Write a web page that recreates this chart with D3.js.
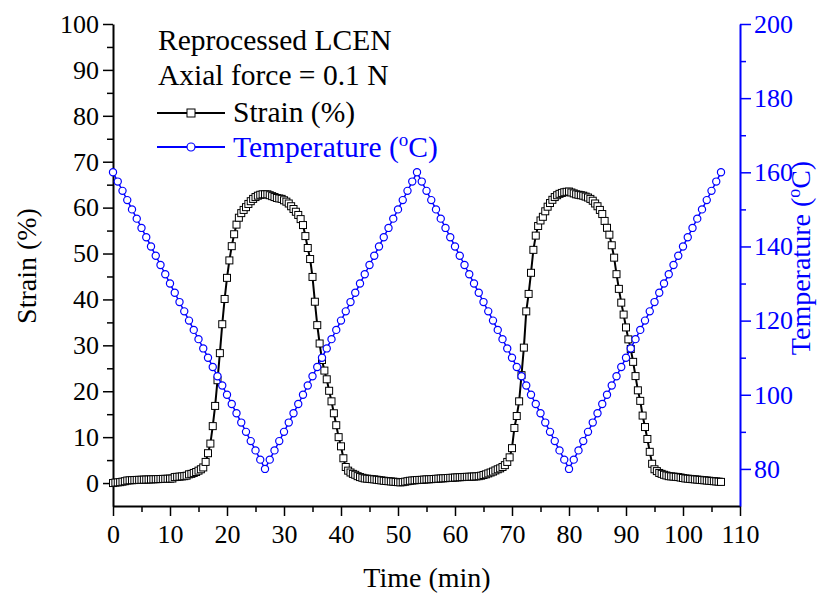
<!DOCTYPE html>
<html>
<head>
<meta charset="utf-8">
<script src="https://cdn.jsdelivr.net/npm/d3@7"></script>
<style>
  body { margin: 0; background: #fff; }
  svg text { font-family: "Liberation Serif", "Times New Roman", serif; }
</style>
</head>
<body>
<div id="chart"></div>
<script>
// strain sampled every 25 s, temperature markers every 50 s
var strainStep = 25 / 60;
var tempStep = 50 / 60;

var strain = [
  0.0,0.1,0.15,0.2,0.3,0.4,0.55,0.6,0.62,0.65,
  0.68,0.7,0.72,0.74,0.76,0.78,0.8,0.82,0.84,0.86,
  0.88,0.9,0.92,0.94,0.96,0.98,1.3,1.35,1.4,1.45,
  1.5,1.6,1.9,2.0,2.2,2.4,2.7,3.0,3.4,4.6,
  6.5,8.6,12.4,16.8,22.4,28.3,34.6,40.1,44.7,48.5,
  51.6,54.2,56.3,57.8,58.8,59.5,60.1,60.8,61.4,61.9,
  62.3,62.6,62.8,62.9,62.9,62.9,62.7,62.5,62.3,62.1,
  62.0,61.9,61.6,61.3,60.9,60.3,59.7,59.1,58.4,57.5,
  56.2,53.8,51.2,48.8,44.9,39.5,34.4,30.4,26.8,24.5,
  22.6,20.1,17.8,15.2,12.6,10.0,8.0,5.4,3.5,2.7,
  2.3,2.0,1.8,1.5,1.3,1.15,1.0,0.95,0.9,0.85,
  0.8,0.72,0.65,0.58,0.5,0.45,0.4,0.35,0.3,0.25,
  0.2,0.15,0.2,0.3,0.4,0.5,0.55,0.6,0.65,0.68,
  0.7,0.75,0.8,0.82,0.85,0.88,0.92,0.96,1.0,1.03,
  1.06,1.1,1.13,1.16,1.2,1.24,1.27,1.3,1.33,1.35,
  1.37,1.4,1.42,1.45,1.5,1.6,1.75,1.9,2.1,2.3,
  2.5,2.75,3.0,3.2,3.5,3.9,4.6,5.6,7.6,12.0,
  14.6,17.8,23.5,29.5,37.4,41.2,45.8,50.8,53.9,56.0,
  57.2,58.0,59.2,60.2,61.0,61.7,62.3,62.7,63.0,63.2,
  63.35,63.45,63.5,63.3,63.1,62.9,62.8,62.7,62.6,62.4,
  62.2,61.9,61.5,60.9,60.3,59.5,58.6,57.1,55.6,54.1,
  51.8,49.1,45.5,42.3,39.3,36.7,33.9,31.3,29.2,26.4,
  23.3,20.2,17.9,14.7,12.2,9.6,6.8,4.2,3.0,2.6,
  2.2,2.0,1.8,1.65,1.5,1.45,1.4,1.35,1.3,1.2,
  1.1,1.0,0.95,0.9,0.85,0.8,0.75,0.7,0.65,0.6,
  0.55,0.5,0.45,0.4,0.35,0.3,0.25
];

var temperature = [
  160,157.5,155,152.5,150,147.5,145,142.5,140,137.5,135,132.5,130,127.5,125,122.5,
  120,117.5,115,112.5,110,107.5,105,102.5,100,97.5,95,92.5,90,87.5,85,82.5,80,
  82.5,85,87.5,90,92.5,95,97.5,100,102.5,105,107.5,110,112.5,115,117.5,120,
  122.5,125,127.5,130,132.5,135,137.5,140,142.5,145,147.5,150,152.5,155,157.5,160,
  157.5,155,152.5,150,147.5,145,142.5,140,137.5,135,132.5,130,127.5,125,122.5,120,
  117.5,115,112.5,110,107.5,105,102.5,100,97.5,95,92.5,90,87.5,85,82.5,80,
  82.5,85,87.5,90,92.5,95,97.5,100,102.5,105,107.5,110,112.5,115,117.5,120,
  122.5,125,127.5,130,132.5,135,137.5,140,142.5,145,147.5,150,152.5,155,157.5,160
];

var xTicks = [0,10,20,30,40,50,60,70,80,90,100,110];
var xMinor = [5,15,25,35,45,55,65,75,85,95,105];
var strainTicks = [0,10,20,30,40,50,60,70,80,90,100];
var strainMinor = [5,15,25,35,45,55,65,75,85,95];
var tempTicks = [80,100,120,140,160,180,200];
var tempMinor = [90,110,130,150,170,190];

var legendTitle = ["Reprocessed LCEN", "Axial force = 0.1 N"];

var blue = "#0000ff";

var svg = d3.select("#chart").append("svg")
    .attr("width", 821)
    .attr("height", 600);

var x = d3.scaleLinear().domain([0, 110]).range([113, 740]);
var yS = d3.scaleLinear().domain([-5, 100]).range([506, 24]);
var yT = d3.scaleLinear().domain([70, 200]).range([506, 24]);

// axes
function styleAxis(g, color) {
    g.attr("font-family", null);
    g.selectAll("path").attr("stroke", color).attr("stroke-width", 2);
    g.selectAll("line").attr("stroke", color).attr("stroke-width", 1.5);
    g.selectAll("text").attr("fill", color).style("font-size", "26px");
}

var gx = svg.append("g").attr("transform", "translate(0,506)")
    .call(d3.axisBottom(x).tickValues(xTicks).tickSize(10).tickPadding(9).tickSizeOuter(0));
styleAxis(gx, "#000");
var gxm = svg.append("g").attr("transform", "translate(0,506)")
    .call(d3.axisBottom(x).tickValues(xMinor).tickSize(6).tickFormat(""));
gxm.select("path").remove();
styleAxis(gxm, "#000");

var gyl = svg.append("g").attr("transform", "translate(113,0)")
    .call(d3.axisLeft(yS).tickValues(strainTicks).tickSize(10).tickPadding(4).tickSizeOuter(0));
styleAxis(gyl, "#000");
var gylm = svg.append("g").attr("transform", "translate(113,0)")
    .call(d3.axisLeft(yS).tickValues(strainMinor).tickSize(6).tickFormat(""));
gylm.select("path").remove();
styleAxis(gylm, "#000");

var gyr = svg.append("g").attr("transform", "translate(740,0)")
    .call(d3.axisRight(yT).tickValues(tempTicks).tickSize(11).tickPadding(3).tickSizeOuter(0));
styleAxis(gyr, blue);
var gyrm = svg.append("g").attr("transform", "translate(740,0)")
    .call(d3.axisRight(yT).tickValues(tempMinor).tickSize(6).tickFormat(""));
gyrm.select("path").remove();
styleAxis(gyrm, blue);

// axis titles
svg.append("text")
    .attr("x", 427).attr("y", 587)
    .attr("text-anchor", "middle")
    .style("font-size", "28px")
    .text("Time (min)");

svg.append("text")
    .attr("transform", "translate(36,266) rotate(-90)")
    .attr("text-anchor", "middle")
    .style("font-size", "28px")
    .text("Strain (%)");

var rt = svg.append("text")
    .attr("transform", "translate(810,258) rotate(-90)")
    .attr("text-anchor", "middle")
    .attr("fill", blue)
    .style("font-size", "28px");
rt.append("tspan").text("Temperature (");
rt.append("tspan").attr("dy", -10).style("font-size", "18px").text("o");
rt.append("tspan").attr("dy", 10).text("C)");

// strain series
var strainData = strain.map(function(d, i) { return { t: i * strainStep, v: d }; });
var tempData = temperature.map(function(d, i) { return { t: i * tempStep, v: d }; });

svg.append("path")
    .datum(strainData)
    .attr("fill", "none")
    .attr("stroke", "#000")
    .attr("stroke-width", 2)
    .attr("d", d3.line().x(d => x(d.t)).y(d => yS(d.v)));

svg.selectAll("rect.sq").data(strainData).enter().append("rect")
    .attr("class", "sq")
    .attr("x", d => x(d.t) - 3.5)
    .attr("y", d => yS(d.v) - 3.5)
    .attr("width", 7)
    .attr("height", 7)
    .attr("fill", "#fff")
    .attr("stroke", "#000")
    .attr("stroke-width", 1);

// temperature series
svg.append("path")
    .datum(tempData)
    .attr("fill", "none")
    .attr("stroke", blue)
    .attr("stroke-width", 1.5)
    .attr("d", d3.line().x(d => x(d.t)).y(d => yT(d.v)));

svg.selectAll("circle.ci").data(tempData).enter().append("circle")
    .attr("class", "ci")
    .attr("cx", d => x(d.t))
    .attr("cy", d => yT(d.v))
    .attr("r", 3.6)
    .attr("fill", "#fff")
    .attr("stroke", blue)
    .attr("stroke-width", 1.2);

// legend
svg.selectAll("text.lt").data(legendTitle).enter().append("text")
    .attr("class", "lt")
    .attr("x", 158)
    .attr("y", (d, i) => 50 + i * 35)
    .style("font-size", "29.5px")
    .text(d => d);

svg.append("line").attr("x1", 157).attr("x2", 225).attr("y1", 113).attr("y2", 113)
    .attr("stroke", "#000").attr("stroke-width", 2);
svg.append("rect").attr("x", 187).attr("y", 109).attr("width", 8).attr("height", 8)
    .attr("fill", "#fff").attr("stroke", "#000").attr("stroke-width", 1);
svg.append("text").attr("x", 233).attr("y", 122).style("font-size", "29.5px").text("Strain (%)");

svg.append("line").attr("x1", 157).attr("x2", 225).attr("y1", 147).attr("y2", 147)
    .attr("stroke", blue).attr("stroke-width", 2);
svg.append("circle").attr("cx", 191).attr("cy", 147).attr("r", 4)
    .attr("fill", "#fff").attr("stroke", blue).attr("stroke-width", 1.2);
var lt = svg.append("text").attr("x", 233).attr("y", 157).attr("fill", blue).style("font-size", "29.5px");
lt.append("tspan").text("Temperature (");
lt.append("tspan").attr("dy", -11).style("font-size", "19px").text("o");
lt.append("tspan").attr("dy", 11).text("C)");
</script>
</body>
</html>
